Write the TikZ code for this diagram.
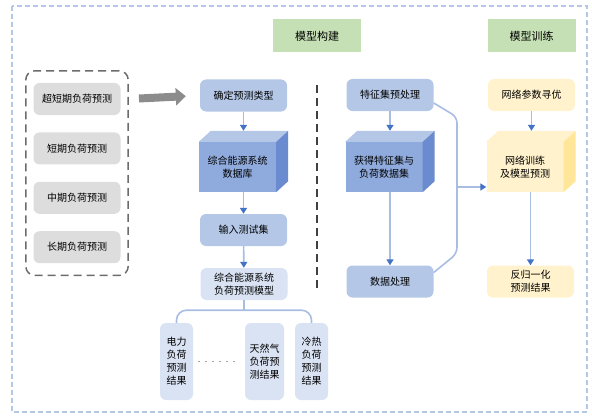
\documentclass[tikz,border=0pt]{standalone}
\usepackage{fontspec}
\newfontfamily\cjk{Noto Sans CJK SC}
\usetikzlibrary{arrows.meta, positioning, fit}
\definecolor{boxblue}{HTML}{B4C7E7}
\definecolor{cubefront}{HTML}{8FAADC}
\definecolor{cubeside}{HTML}{6A8BCF}
\definecolor{paleblue}{HTML}{DAE3F3}
\definecolor{boxyellow}{HTML}{FFF2CC}
\definecolor{yellowside}{HTML}{FFE699}
\definecolor{headgreen}{HTML}{C5E0B4}
\definecolor{boxgray}{HTML}{DDDDDD}
\definecolor{linkblue}{HTML}{A9BDE3}
\definecolor{tipblue}{HTML}{4472C4}
\tikzstyle{block} = [rectangle, rounded corners=6pt, minimum width=87pt, minimum height=32pt, align=center, inner sep=2pt, font=\cjk\fontsize{10}{13}\selectfont]
\tikzstyle{process} = [block, fill=boxblue]
\tikzstyle{train} = [block, fill=boxyellow]
\tikzstyle{kind} = [block, fill=boxgray]
\tikzstyle{result} = [block, fill=paleblue, minimum width=33pt, minimum height=77pt, inner sep=3pt]
\tikzstyle{header} = [rectangle, fill=headgreen, minimum width=88pt, minimum height=33pt, font=\cjk\fontsize{11}{13}\selectfont]
\tikzstyle{cube} = [rectangle, minimum width=77pt, minimum height=50pt, align=center, inner sep=2pt, font=\cjk\fontsize{10}{13}\selectfont]
\tikzstyle{path} = [-{Triangle[length=6pt, width=7pt, color=tipblue]}, linkblue, line width=1.6pt]
\tikzstyle{link} = [linkblue, line width=1.6pt, rounded corners=10pt]
% faces of a cube drawn behind its front node
\newcommand*{\cubefaces}[3]{
    \fill [#2] (#1.north west) -- ++(12,-11) -- ([shift={(12,-11)}]#1.north east) -- (#1.north east) -- cycle;
    \fill [#3] (#1.north east) -- ++(12,-11) -- ([shift={(12,-11)}]#1.south east) -- (#1.south east) -- cycle;
}

\begin{document}
\begin{tikzpicture}[x=1pt, y=-1pt, node distance=17pt]
    \useasboundingbox (0,0) rectangle (592,420);

    % Frame.
    \draw [boxblue, line width=1.8pt, dash pattern=on 5pt off 3pt] (12,6) rectangle (587,412);

    % Headers.
    \node (build) [header] at (317,36) {模型构建};
    \node (learn) [header] at (531.5,36) {模型训练};

    % Load kinds.
    \node (kind1) [kind] at (77,99) {超短期负荷预测};
    \node (kind2) [kind, below=of kind1] {短期负荷预测};
    \node (kind3) [kind, below=of kind2] {中期负荷预测};
    \node (kind4) [kind, below=of kind3] {长期负荷预测};
    \node (kinds) [draw=gray!85!black, line width=1.5pt, dash pattern=on 8pt off 5pt, rounded corners=9pt, inner xsep=7.5pt, inner ysep=12pt, fit=(kind1)(kind4)] {};

    % Model building.
    \node (type) [process] at (243.5,95.5) {确定预测类型};
    \node (db) [cube, fill=cubefront] at (237.5,167) {综合能源系统\\数据库};
    \cubefaces{db}{boxblue}{cubeside}
    \node (input) [process] at (243.5,230) {输入测试集};
    \node (model) [block, fill=paleblue] at (244,284) {综合能源系统\\负荷预测模型};

    % Results.
    \node (power) [result] at (176.5,361.5) {电力\\负荷\\预测\\结果};
    \node (gas) [result, minimum width=39pt] at (264.5,361.5) {天然气\\负荷预\\测结果};
    \node (cold) [result] at (311.5,361.5) {冷热\\负荷\\预测\\结果};

    % Data preparation.
    \node (prep) [process] at (390,95) {特征集预处理};
    \node (feat) [cube, fill=cubefront] at (384,167) {获得特征集与\\负荷数据集};
    \cubefaces{feat}{boxblue}{cubeside}
    \node (proc) [process] at (390,281.5) {数据处理};

    % Training.
    \node (opt) [train] at (531.5,95) {网络参数寻优};
    \node (net) [cube, fill=boxyellow] at (525,167) {网络训练\\及模型预测};
    \cubefaces{net}{boxyellow}{yellowside}
    \node (denorm) [train] at (530.5,281.5) {反归一化\\预测结果};

    % Separator.
    \draw [black!75, line width=1.8pt, dash pattern=on 8pt off 5pt] (317,85) -- (317,292);

    % Arrows.
    \draw [-{Triangle[length=10pt, width=17pt]}, gray!90, line width=8pt, shorten <=10pt, shorten >=14pt] (kinds.east |- kind1) -- (type.west);
    \draw [path] (type) -- ([yshift=11pt]type.south |- db.north);
    \draw [path] (db.south -| input.north) -- (input.north);
    \draw [path] (input) -- (model);
    \draw [path] (prep) -- ([yshift=11pt]prep.south |- feat.north);
    \draw [path] (feat.south -| proc.north) -- (proc.north);
    \draw [path] (opt) -- ([yshift=11pt]opt.south |- net.north);
    \draw [path] (net.south -| denorm.north) -- (denorm.north);

    % Tree of results.
    \coordinate (fork) at ([yshift=-10pt]model.south);
    \draw [link] (model.south) -- (fork);
    \draw [link] (power.north) |- (fork) -| (cold.north);
    \draw [gray!70, line width=1.5pt, dash pattern=on 1.5pt off 5.5pt, shorten <=5pt, shorten >=5pt] (power.east) -- (gas.west);

    % Bus to training.
    \coordinate (bus) at (457,187);
    \draw [link, rounded corners=6pt] ([yshift=-8pt]prep.east) -- ([yshift=-22pt]prep.east -| bus) -- ([yshift=28pt]proc.east -| bus) -- ([yshift=9pt]proc.east);
    \draw [path] (bus) -- (bus -| net.west);
\end{tikzpicture}
\end{document}
